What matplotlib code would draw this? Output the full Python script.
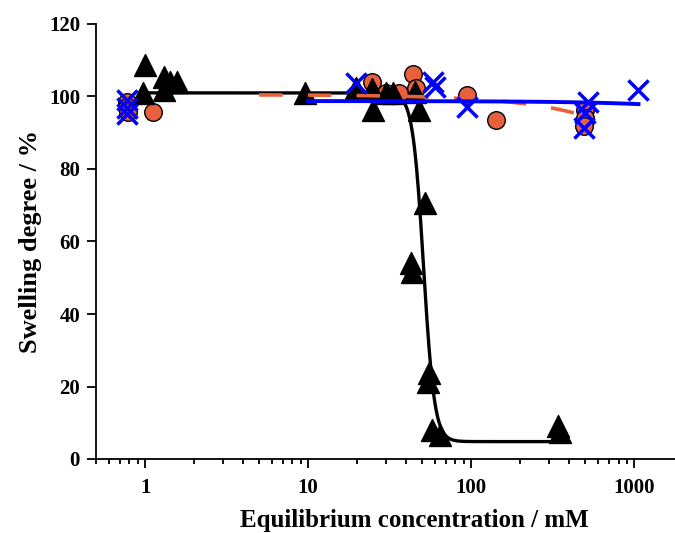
import numpy as np
import matplotlib
matplotlib.use("Agg")
import matplotlib.pyplot as plt
from matplotlib.ticker import LogLocator, NullFormatter, FixedLocator, FixedFormatter

# ---- data ----
tri_x = [1.0, 0.975, 1.3, 1.42, 1.56, 1.3, 9.6, 19.6, 24.7, 25.0, 30.0, 33.0,
         45.0, 48.0, 52.0, 43.0, 43.5, 55.0, 54.0, 57.6, 64.0, 342.0, 350.0]
tri_y = [108.7, 100.9, 105.5, 104.0, 104.0, 101.8, 101.0, 102.3, 102.0, 96.3, 101.0, 100.9,
         101.3, 96.3, 70.6, 54.0, 51.6, 23.7, 21.3, 8.0, 6.6, 9.0, 7.5]

circ_x = [0.78, 0.78, 0.79, 1.12, 24.6, 30.0, 36.0, 44.0, 46.0, 94.5, 142.0, 500.0, 500.0, 490.0]
circ_y = [98.5, 97.0, 95.8, 95.8, 104.0, 101.0, 100.9, 106.2, 102.3, 100.4, 93.5, 96.3, 94.0, 91.8]

cross_x = [0.77, 0.77, 0.78, 19.6, 58.0, 60.0, 94.0, 520.0, 500.0, 490.0, 1060.0]
cross_y = [99.0, 96.8, 95.2, 103.6, 104.0, 102.5, 97.2, 98.6, 95.4, 91.2, 101.8]

# fitted curves (parameters)
sig_top, sig_bottom, sig_x0, sig_n = 101.0, 4.8, 51.0, 13.0
sig_range = (1.0, 350.0)
orange_a, orange_b = 100.5, -0.0118
orange_range = (5.0, 500.0)
blue_a, blue_b = 98.75, -0.0008
blue_range = (10.0, 1060.0)

y_ticks = [0, 20, 40, 60, 80, 100, 120]
x_ticks = [1, 10, 100, 1000]
x_ticklabels = ["1", "10", "100", "1000"]

# ---- figure ----
fig = plt.figure(figsize=(6.75, 5.33), dpi=100)
ax = fig.add_axes([96/675, 74/533, 580/675, 435/533])

font = "Liberation Serif"

xs = np.logspace(np.log10(sig_range[0]), np.log10(sig_range[1]), 400)
ys = sig_bottom + (sig_top - sig_bottom) / (1 + (xs / sig_x0) ** sig_n)
ax.plot(xs, ys, color="black", lw=2.4, zorder=2, solid_capstyle="butt")

ax.scatter(circ_x, circ_y, s=160, marker="o", facecolor="#E8603C",
           edgecolor="black", linewidths=1.0, zorder=3)
ax.scatter(tri_x, tri_y, s=250, marker="^", color="black", zorder=4)

xo = np.logspace(np.log10(orange_range[0]), np.log10(orange_range[1]), 300)
lo, = ax.plot(xo, orange_a + orange_b * xo, color="#E8603C", lw=2.6, zorder=5)
lo.set_dashes((6.5, 7))

ax.scatter(cross_x, cross_y, s=210, marker="x", color="#0000FF",
           linewidths=2.5, zorder=6)

xb = np.logspace(np.log10(blue_range[0]), np.log10(blue_range[1]), 300)
ax.plot(xb, blue_a + blue_b * xb, color="#0000FF", lw=2.8, zorder=7)

ax.set_xscale("log")
ax.set_xlim(0.5, 1800)
ax.set_ylim(0, 120)

ax.xaxis.set_major_locator(FixedLocator(x_ticks))
ax.xaxis.set_major_formatter(FixedFormatter(x_ticklabels))
ax.xaxis.set_minor_locator(LogLocator(base=10, subs=np.arange(2, 10)))
ax.xaxis.set_minor_formatter(NullFormatter())
ax.set_yticks(y_ticks)

for s in ["top", "right"]:
    ax.spines[s].set_visible(False)
for s in ["left", "bottom"]:
    ax.spines[s].set_linewidth(1.3)

ax.tick_params(axis="both", which="major", direction="out", length=6.5, width=1.3,
               labelsize=15)
ax.tick_params(axis="x", which="major", pad=7)
ax.tick_params(axis="x", which="minor", direction="out", length=3.5, width=1.3)
ax.tick_params(axis="y", which="major", pad=5)
for lab in ax.get_xticklabels() + ax.get_yticklabels():
    lab.set_fontfamily(font)
    lab.set_fontweight("bold")

ax.set_xlabel("Equilibrium concentration / mM", fontsize=18, fontweight="bold",
              fontfamily=font, labelpad=9)
ax.xaxis.set_label_coords((414 - 96) / 580, -0.115)
ax.set_ylabel("Swelling degree / %", fontsize=19, fontweight="bold",
              fontfamily=font, labelpad=5)

fig.savefig("out.png", dpi=100)
